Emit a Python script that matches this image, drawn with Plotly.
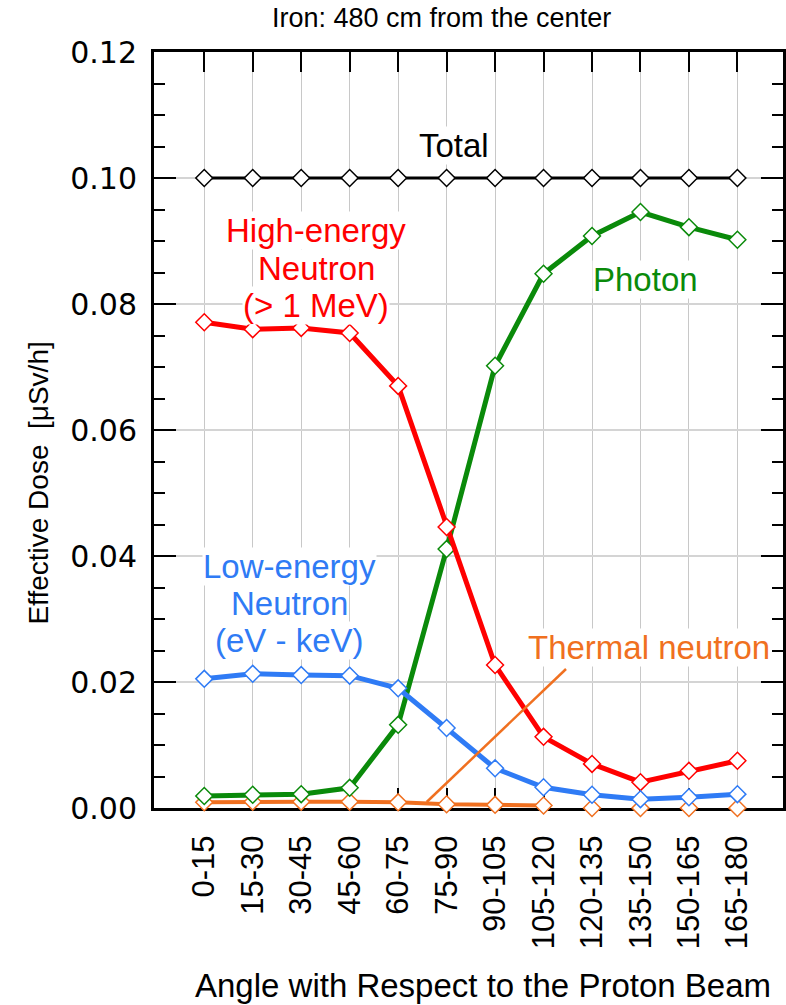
import plotly.graph_objects as go

angles = ["0-15", "15-30", "30-45", "45-60", "60-75", "75-90", "90-105",
          "105-120", "120-135", "135-150", "150-165", "165-180"]
total = [0.100] * 12
high_energy = [0.0771, 0.0760, 0.0762, 0.0754, 0.0670, 0.0446, 0.0227,
               0.0113, 0.0070, 0.0041, 0.0059, 0.0075]
photon = [0.0019, 0.0021, 0.0022, 0.0032, 0.0132, 0.0411, 0.0702,
          0.0848, 0.0908, 0.0946, 0.0922, 0.0902]
low_energy = [0.0205, 0.0213, 0.0211, 0.0210, 0.0190, 0.0127, 0.0063,
              0.0033, 0.0021, 0.0014, 0.0017, 0.0022]
thermal = [0.0009, 0.0010, 0.0010, 0.0010, 0.0009, 0.0006, 0.0005,
           0.0004, 0.0, 0.0, 0.0, 0.0]

RED = "#ff0000"
GREEN = "#0a8a0a"
BLUE = "#2f7bf5"
ORANGE = "#f07020"
BLACK = "#000000"

idx = list(range(len(angles)))
fig = go.Figure()


def add_series(vals, color, width, line_vals=None):
    lv = vals if line_vals is None else line_vals
    fig.add_trace(go.Scatter(x=idx, y=lv, mode="lines",
                             line=dict(color=color, width=width),
                             cliponaxis=False, hoverinfo="skip",
                             showlegend=False, connectgaps=False))
    fig.add_trace(go.Scatter(x=idx, y=vals, mode="markers",
                             marker=dict(symbol="diamond", size=13, color="white",
                                         line=dict(color=color, width=1.5)),
                             cliponaxis=False, showlegend=False))


add_series(thermal, ORANGE, 4, [v if v > 0 else None for v in thermal])
add_series(photon, GREEN, 5)
add_series(high_energy, RED, 5)
add_series(low_energy, BLUE, 5)
add_series(total, BLACK, 3)

# pixel helpers for layout (plot area 154..786 x, 52..808 y)
L, R, T, B = 154, 786, 52, 808
X0, DX = 204.5, 48.7


def dx(px):
    return (px - X0) / DX


def dy(py):
    return (B - py) / 6300.0


def px_(px):
    return (px - L) / (R - L)


def py_(py):
    return (B - py) / (B - T)


FONT = "Liberation Sans, Arial, sans-serif"
ann_font = 33

labels = [
    (455, 145, "Total", BLACK),
    (317, 230, "High-energy", RED),
    (317, 268, "Neutron", RED),
    (317, 305, "(> 1 MeV)", RED),
    (648, 279, "Photon", GREEN),
    (290, 566, "Low-energy", BLUE),
    (290, 603, "Neutron", BLUE),
    (290, 640, "(eV - keV)", BLUE),
    (651, 647, "Thermal neutron", ORANGE),
]
annotations = []
for (x, y, t, c) in labels:
    annotations.append(dict(x=dx(x), y=dy(y), text=t, xref="x", yref="y",
                            showarrow=False, bgcolor="white", borderpad=0,
                            xanchor="center", yanchor="middle",
                            font=dict(family=FONT, size=ann_font, color=c)))

annotations += [
    dict(xref="paper", yref="paper", x=px_(443), y=py_(18), text="Iron: 480 cm from the center",
         showarrow=False, font=dict(family=FONT, size=27, color="black"),
         xanchor="center", yanchor="middle"),
    dict(xref="paper", yref="paper", x=px_(485), y=py_(985),
         text="Angle with Respect to the Proton Beam",
         showarrow=False, font=dict(family=FONT, size=33, color="black"),
         xanchor="center", yanchor="middle"),
    dict(xref="paper", yref="paper", x=px_(37), y=py_(483),
         text="Effective Dose  [μSv/h]", textangle=-90,
         showarrow=False, font=dict(family=FONT, size=28, color="black"),
         xanchor="center", yanchor="middle"),
]

fig.add_shape(type="line", xref="x", yref="y", x0=dx(428), y0=dy(802), x1=dx(568), y1=dy(669),
              line=dict(color=ORANGE, width=2.5), layer="above")

fig.update_layout(
    width=786, height=1005,
    margin=dict(l=L, r=0, t=T, b=1005 - B),
    paper_bgcolor="white", plot_bgcolor="white",
    annotations=annotations,
    xaxis=dict(
        range=[dx(L), dx(R)],
        tickmode="array", tickvals=idx, ticktext=angles,
        tickangle=-90, ticks="inside", ticklen=20, tickwidth=1.5, tickcolor="black",
        showline=True, linewidth=3, linecolor="black", mirror="ticks",
        showgrid=True, gridcolor="#c8c8c8", gridwidth=1,
        zeroline=False, layer="below traces",
        tickfont=dict(family=FONT, size=31, color="black"),
        ticklabelstandoff=12,
    ),
    yaxis=dict(
        range=[0, 0.12], tickmode="linear", tick0=0, dtick=0.02, tickformat=".2f",
        ticks="inside", ticklen=22, tickwidth=1.5, tickcolor="black",
        minor=dict(dtick=0.005, ticks="inside", ticklen=11, tickwidth=1.5,
                   tickcolor="black", showgrid=False),
        showline=True, linewidth=3, linecolor="black", mirror="ticks",
        showgrid=True, gridcolor="#d4d4d4", gridwidth=2,
        zeroline=False, layer="below traces",
        tickfont=dict(family="DejaVu Sans, sans-serif", size=30, color="black"),
        ticklabelstandoff=8,
    ),
)

fig.write_html("out.html")
